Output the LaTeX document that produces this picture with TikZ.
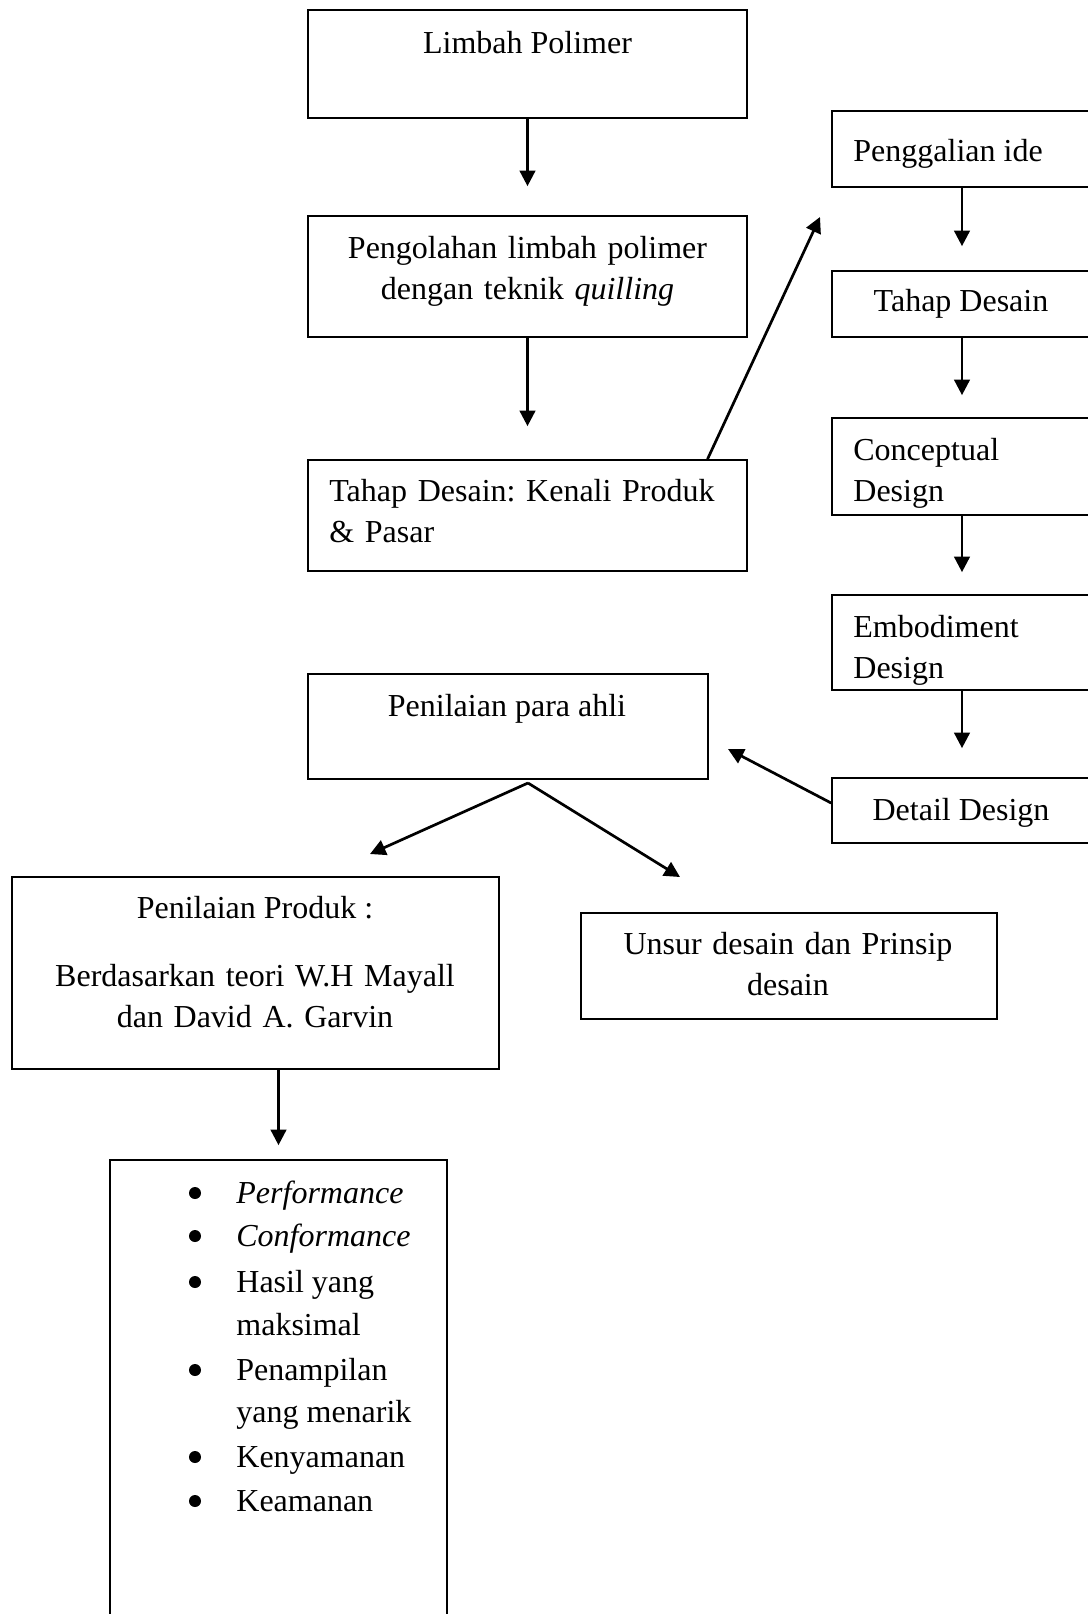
\documentclass[tikz,border=0pt]{standalone}
\usepackage{fontspec}
\setmainfont{Liberation Serif}
\usetikzlibrary{arrows.meta, calc}

\begin{document}
\frenchspacing
\begin{tikzpicture}[x=0.5pt, y=-0.5pt, >={Triangle[length=7.8pt, width=7.8pt]},
  box/.style={draw, line width=0.85pt, inner sep=0pt},
  txt/.style={anchor=base, inner sep=0pt, font=\fontsize{16}{20.5}\selectfont},
  dot/.style={circle, fill, inner sep=0pt, minimum size=6pt},
  arr/.style={->, line width=1.35pt}]
  \path[use as bounding box, clip] (0,0) rectangle (1088,1614);

  % Left column
  \node[box, minimum width=219.5pt, minimum height=54pt] (lp) at (527.5,64) {};
  \node[box, minimum width=219.5pt, minimum height=60.5pt] (pg) at (527.5,276.5) {};
  \node[box, minimum width=219.5pt, minimum height=55.5pt] (td) at (527.5,515.5) {};
  \node[txt] (lpT) at (527.5,53) {Limbah Polimer};
  \node[txt, text width=215pt, align=center] (pgT) at (527.5,258)
    {Pengolahan limbah polimer\\dengan teknik \textit{quilling}};
  \node[txt, anchor=base west, text width=200pt, align=left] (tdT) at (329,501)
    {Tahap Desain: Kenali Produk\\\& Pasar};

  % Right column
  \node[box, minimum width=130pt, minimum height=38pt] (pi) at (962,149) {};
  \node[box, minimum width=130pt, minimum height=33pt] (tds) at (962,304) {};
  \node[box, minimum width=130pt, minimum height=48.5pt] (cd) at (962,466.5) {};
  \node[box, minimum width=130pt, minimum height=47.5pt] (ed) at (962,642.5) {};
  \node[box, minimum width=130pt, minimum height=32.5pt] (dd) at (962,810.5) {};
  \node[txt, anchor=base west] (piT) at (853,161) {Penggalian ide};
  \node[txt] (tdsT) at (961,311) {Tahap Desain};
  \node[txt, anchor=base west, text width=110pt, align=left] (cdT) at (853,460) {Conceptual\\Design};
  \node[txt, anchor=base west, text width=110pt, align=left] (edT) at (853,637) {Embodiment\\Design};
  \node[txt] (ddT) at (961,820) {Detail Design};

  % Assessment
  \node[box, minimum width=200pt, minimum height=52.5pt] (pa) at (508,726.5) {};
  \node[box, minimum width=243.5pt, minimum height=96pt] (pp) at (255.5,973) {};
  \node[box, minimum width=208pt, minimum height=53pt] (us) at (789,966) {};
  \node[box, minimum width=168.5pt, minimum height=240pt] (kr) at (278.5,1400) {};
  \node[txt] (paT) at (507,716) {Penilaian para ahli};
  \node[txt] (ppT) at (255,918) {Penilaian Produk :};
  \node[txt, text width=235pt, align=center] (ppTb) at (255,986)
    {Berdasarkan teori W.H Mayall\\dan David A. Garvin};
  \node[txt, text width=200pt, align=center] (usT) at (788,954)
    {Unsur desain dan Prinsip\\desain};

  % Criteria list
  \foreach \yy in {1203,1246,1292,1380,1467,1511}
    \node[dot] (bul\yy) at (195,\yy-10) {};
  \foreach \yy/\entry in {1203/{\textit{Performance}}, 1246/{\textit{Conformance}},
      1292/Hasil yang, 1335/maksimal, 1380/Penampilan, 1422/yang menarik,
      1467/Kenyamanan, 1511/Keamanan}
    \node[txt, anchor=base west] (it\yy) at (236,\yy) {\entry};

  % Arrows
  \draw[arr, shorten >=14.5pt] (lp) -- (pg);
  \draw[arr, shorten >=16.5pt] (pg) -- (td);
  \coordinate (tipA) at (820,217);
  \draw[arr] ([xshift=90pt]td.north) -- (tipA);
  \draw[arr, shorten >=12pt] (pi) -- (tds);
  \draw[arr, shorten >=11pt] (tds) -- (cd);
  \draw[arr, shorten >=11pt] (cd) -- (ed);
  \draw[arr, shorten >=14.5pt] (ed) -- (dd);
  \coordinate (tipB) at (728,749);
  \draw[arr] ([yshift=3.75pt]dd.west) -- (tipB);
  \coordinate (fork) at (528,783);
  \coordinate (tipC) at (370,854);
  \coordinate (tipD) at (680,877);
  \draw[arr] (fork) -- (tipC);
  \draw[arr] (fork) -- (tipD);
  \draw[arr, shorten >=7pt] (pp.south -| kr.north) -- (kr.north);
\end{tikzpicture}
\end{document}
